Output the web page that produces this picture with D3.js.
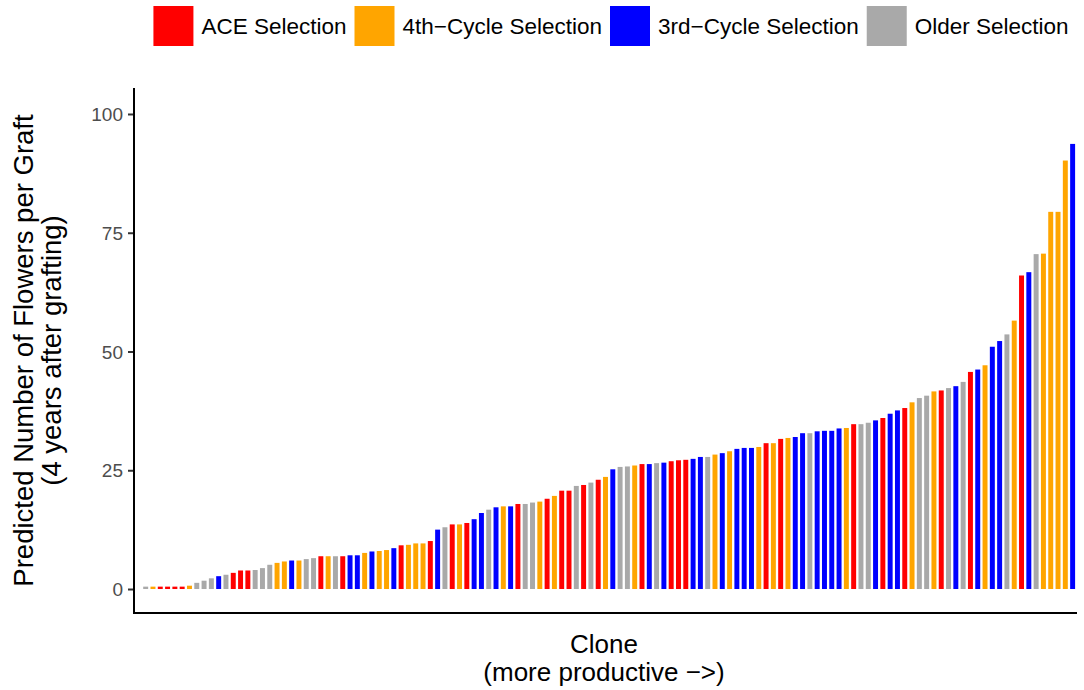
<!DOCTYPE html>
<html>
<head>
<meta charset="utf-8">
<script src="https://cdn.jsdelivr.net/npm/d3@7"></script>
<style>
  html, body { margin: 0; padding: 0; background: #fff; }
  svg { display: block; font-family: "Liberation Sans", Arial, Helvetica, sans-serif; }
</style>
</head>
<body>
<svg id="chart" width="1084" height="690"></svg>
<script>
// ---- Data ----
const categories = ["ACE Selection", "4th\u2212Cycle Selection", "3rd\u2212Cycle Selection", "Older Selection"];
const categoryColors = ["#FF0000", "#FFA500", "#0000FF", "#A9A9A9"];
// group code per clone: A = ACE, F = 4th-cycle, T = 3rd-cycle, O = older
const cloneGroups = [
  "O",
  "O","F","A","A","A","A","F","O","O","O","T","O","A","A","A","O","O","O","F","F","T",
  "F","O","O","A","F","O","A","T","T","F","T","F","F","T","A","F","F","F","A","T","O",
  "A","F","A","T","T","O","T","F","T","A","O","O","F","A","F","A","A","O","A","O","A","F",
  "T","O","O","F","A","T","O","T","A","A","A","T","T","O","F","T","F","T","T","T","F",
  "A","F","A","F","T","T","O","T","T","T","T","F","A","O","O","T","A","T","T","A","F",
  "O","O","F","A","O","T","O","A","T","F","T","T","O","F","A","T","O","F","F","F","F","T"
];
const flowers = [
  0,
  0.5,0.5,0.5,0.5,0.5,0.5,0.7,1.3,1.75,2.25,2.7,3.0,3.4,3.9,3.9,4.0,4.4,5.1,5.5,5.8,6.0,
  6.0,6.3,6.5,6.9,6.9,6.9,6.9,7.1,7.1,7.6,7.9,8.0,8.2,8.6,9.2,9.3,9.6,9.6,10.1,12.5,13.0,
  13.6,13.6,13.9,14.7,16.0,16.7,17.2,17.4,17.4,17.9,17.9,18.2,18.4,19.0,19.6,20.7,20.7,21.7,21.9,22.4,23.0,23.6,
  25.2,25.7,25.8,26.0,26.3,26.3,26.5,26.6,26.9,27.1,27.2,27.4,27.8,27.8,28.3,28.6,29.0,29.5,29.7,29.7,29.9,
  30.7,30.7,31.6,31.8,32.0,32.8,32.8,33.2,33.3,33.3,33.8,33.9,34.7,34.7,35.0,35.5,36.0,36.9,37.6,38.1,39.3,
  40.2,40.7,41.6,41.8,42.3,42.7,43.6,45.7,46.2,47.1,51.0,52.2,53.6,56.5,66.0,66.7,70.5,70.6,79.4,79.4,90.2,93.7
];
const groupCodes = ["A", "F", "T", "O"];
const yTicks = [0, 25, 50, 75, 100];
const yTitleLines = ["Predicted Number of Flowers per Graft", "(4 years after grafting)"];
const xTitleLines = ["Clone", "(more productive \u2212>)"];

// ---- Layout ----
const svg = d3.select("#chart");
const panel = { left: 134, right: 1077, top: 88, bottom: 613 };
const n = flowers.length;
const ids = d3.range(n);

const step = (panel.right - panel.left) / (n - 1 + 1.2);
const x = d3.scaleBand()
  .domain(ids)
  .range([panel.left + 0.6 * step - step / 2, panel.right - 0.6 * step + step / 2])
  .paddingInner(0.32)
  .paddingOuter(0.16);

const y = d3.scaleLinear().domain([-5.05, 105.47]).range([panel.bottom, panel.top]);
const color = d3.scaleOrdinal().domain(groupCodes).range(categoryColors);

// bars
svg.append("g").selectAll("rect")
  .data(ids)
  .join("rect")
  .attr("x", i => x(i))
  .attr("width", x.bandwidth())
  .attr("y", i => y(flowers[i]))
  .attr("height", i => y(0) - y(flowers[i]))
  .attr("fill", i => color(cloneGroups[i]));

// y axis
const yAxis = svg.append("g")
  .attr("transform", `translate(${panel.left},0)`)
  .call(d3.axisLeft(y).tickValues(yTicks).tickSize(6).tickPadding(5).tickSizeOuter(0));
yAxis.select(".domain").remove();
yAxis.selectAll(".tick line").attr("stroke", "#333").attr("stroke-width", 2);
yAxis.selectAll(".tick text").attr("fill", "#4D4D4D").attr("font-size", 19).attr("dy", "0.35em")
  .attr("font-family", "Liberation Sans, Arial, sans-serif");

// axis lines
svg.append("line").attr("x1", panel.left).attr("x2", panel.left)
  .attr("y1", panel.top).attr("y2", panel.bottom + 1).attr("stroke", "#000").attr("stroke-width", 2);
svg.append("line").attr("x1", panel.left - 1).attr("x2", panel.right)
  .attr("y1", panel.bottom).attr("y2", panel.bottom).attr("stroke", "#000").attr("stroke-width", 2);

// x title
const xt = svg.append("text").attr("text-anchor", "middle").attr("font-size", 26).attr("fill", "#000");
xt.append("tspan").attr("x", 604).attr("y", 653).text(xTitleLines[0]);
xt.append("tspan").attr("x", 604).attr("y", 681).text(xTitleLines[1]);

// y title
const yt = svg.append("text").attr("text-anchor", "middle").attr("font-size", 27.5).attr("fill", "#000")
  .attr("transform", `translate(0,${(panel.top + panel.bottom) / 2}) rotate(-90)`);
yt.append("tspan").attr("x", 0).attr("y", 33).text(yTitleLines[0]);
yt.append("tspan").attr("x", 0).attr("y", 61).text(yTitleLines[1]);

// legend
const leg = svg.append("g");
const keySize = 40, keyGap = 8, itemGap = 8;
const items = categories.map((c, i) => {
  const g = leg.append("g");
  g.append("rect").attr("width", keySize).attr("height", keySize).attr("y", 6).attr("fill", categoryColors[i]);
  const t = g.append("text").attr("x", keySize + keyGap).attr("y", 26).attr("dy", "0.35em")
    .attr("font-size", 22.5).attr("fill", "#000").text(c);
  return { g, w: keySize + keyGap + t.node().getComputedTextLength() };
});
const total = d3.sum(items, d => d.w) + itemGap * (items.length - 1);
let cx = 611 - total / 2;
items.forEach(it => { it.g.attr("transform", `translate(${cx},0)`); cx += it.w + itemGap; });
</script>
</body>
</html>
